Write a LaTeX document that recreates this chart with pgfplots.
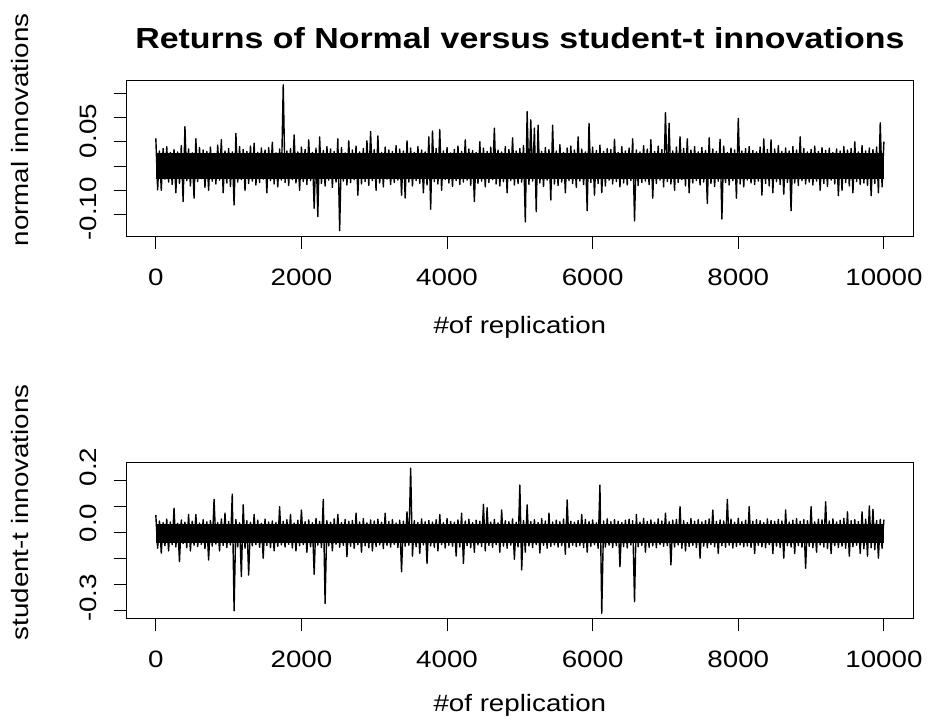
\documentclass[border=0pt]{standalone}
\usepackage{pgfplots}
\pgfplotsset{compat=1.18}
\usepackage{fontspec}
\setmainfont{Liberation Sans}[FakeStretch=1.17]
\newcommand{\rfont}{\fontsize{23.7pt}{28pt}\selectfont}
\begin{document}
\begin{tikzpicture}
\useasboundingbox (0,0) rectangle (928pt,-722pt);
\pgfplotsset{
  rstyle/.style={
    scale only axis, width=786.3pt,
    xmin=-400, xmax=10400,
    scaled x ticks=false, scaled y ticks=false,
    axis line style={line width=0.9pt},
    tick align=outside, tick pos=left,
    major tick length=13pt,
    tick style={black, line width=0.9pt},
    tick label style={font=\rfont},
    label style={font=\rfont},
    xtick={0,2000,4000,6000,8000,10000},
    xticklabels={0,2000,4000,6000,8000,10000},
    xticklabel style={anchor=base, inner sep=0pt, yshift=-36pt},
    yticklabels={},
    extra y tick style={major tick length=0pt,
      yticklabel style={rotate=90, anchor=south, inner sep=0pt, yshift=30pt}},
    xlabel={\#of replication},
    ylabel style={at={(axis description cs:0,0.68)}, anchor=center, yshift=106.7pt},
  },
  rline/.style={black, line width=1.4pt, line join=round, mark=none},
  rcore/.style={fill=black, draw=none, mark=none},
}
% ---------------- top panel: normal innovations ----------------
\begin{axis}[rstyle,
  at={(126.7pt,-236pt)}, anchor=south west, height=156pt,
  ymin=-0.144, ymax=0.177,
  ytick={-0.10,-0.05,0,0.05,0.10,0.15},
  extra y ticks={0.072,-0.0885},
  extra y tick labels={0.05,-0.10},
  ylabel={normal innovations},
  xlabel style={at={(axis description cs:0.5,0)}, anchor=center, yshift=-91pt},
  title={Returns of Normal versus student-t innovations},
  title style={at={(axis description cs:0.5,1)}, anchor=center, yshift=36pt,
    font=\fontsize{29pt}{34pt}\selectfont\bfseries},
]
\addplot[rcore] coordinates {(0,-0.026) (10000,-0.026) (10000,0.027) (0,0.027)} -- cycle;
\addplot[rline] table[x expr=\coordindex*25, y index=0, header=false, row sep=\\] {
0.057\\ -0.049\\ 0.031\\ -0.050\\ 0.036\\ -0.027\\ 0.040\\ -0.033\\ 0.028\\ -0.038\\
0.034\\ -0.055\\ 0.029\\ -0.036\\ 0.042\\ -0.073\\ 0.081\\ -0.030\\ 0.035\\ -0.041\\
0.027\\ -0.066\\ 0.056\\ -0.032\\ 0.038\\ -0.026\\ 0.033\\ -0.044\\ 0.030\\ -0.050\\
0.039\\ -0.031\\ 0.026\\ -0.037\\ 0.043\\ -0.029\\ 0.054\\ -0.055\\ 0.031\\ -0.035\\
0.036\\ -0.042\\ 0.029\\ -0.080\\ 0.067\\ -0.033\\ 0.040\\ -0.028\\ 0.034\\ -0.050\\
0.030\\ -0.036\\ 0.041\\ -0.031\\ 0.047\\ -0.039\\ 0.028\\ -0.034\\ 0.037\\ -0.027\\
0.033\\ -0.055\\ 0.038\\ -0.030\\ 0.049\\ -0.037\\ 0.027\\ -0.043\\ 0.035\\ -0.029\\
0.167\\ -0.034\\ 0.031\\ -0.040\\ 0.036\\ -0.028\\ 0.064\\ -0.035\\ 0.029\\ -0.050\\
0.039\\ -0.032\\ 0.034\\ -0.038\\ 0.054\\ -0.030\\ 0.028\\ -0.087\\ 0.037\\ -0.104\\
0.060\\ -0.036\\ 0.032\\ -0.041\\ 0.040\\ -0.029\\ 0.035\\ -0.044\\ 0.030\\ -0.033\\
0.056\\ -0.133\\ 0.038\\ -0.031\\ 0.027\\ -0.039\\ 0.052\\ -0.034\\ 0.033\\ -0.028\\
0.041\\ -0.060\\ 0.029\\ -0.037\\ 0.036\\ -0.032\\ 0.052\\ -0.040\\ 0.071\\ -0.030\\
0.034\\ -0.050\\ 0.062\\ -0.035\\ 0.028\\ -0.043\\ 0.039\\ -0.027\\ 0.033\\ -0.038\\
0.030\\ -0.034\\ 0.042\\ -0.029\\ 0.035\\ -0.060\\ 0.031\\ -0.066\\ 0.052\\ -0.033\\
0.037\\ -0.041\\ 0.028\\ -0.030\\ 0.040\\ -0.036\\ 0.033\\ -0.055\\ 0.029\\ -0.039\\
0.060\\ -0.089\\ 0.072\\ -0.032\\ 0.036\\ -0.037\\ 0.075\\ -0.050\\ 0.031\\ -0.028\\
0.038\\ -0.035\\ 0.027\\ -0.042\\ 0.034\\ -0.030\\ 0.041\\ -0.038\\ 0.030\\ -0.033\\
0.054\\ -0.029\\ 0.035\\ -0.040\\ 0.032\\ -0.073\\ 0.028\\ -0.036\\ 0.050\\ -0.031\\
0.037\\ -0.043\\ 0.030\\ -0.034\\ 0.039\\ -0.028\\ 0.078\\ -0.037\\ 0.033\\ -0.041\\
0.029\\ -0.032\\ 0.040\\ -0.055\\ 0.034\\ -0.030\\ 0.058\\ -0.039\\ 0.031\\ -0.036\\
0.036\\ -0.033\\ 0.042\\ -0.115\\ 0.112\\ -0.038\\ 0.095\\ -0.031\\ 0.078\\ -0.094\\
0.084\\ -0.035\\ 0.030\\ -0.042\\ 0.038\\ -0.029\\ 0.034\\ -0.070\\ 0.084\\ -0.037\\
0.031\\ -0.040\\ 0.044\\ -0.033\\ 0.028\\ -0.055\\ 0.037\\ -0.030\\ 0.041\\ -0.036\\
0.033\\ -0.044\\ 0.060\\ -0.031\\ 0.035\\ -0.038\\ 0.029\\ -0.092\\ 0.088\\ -0.034\\
0.039\\ -0.060\\ 0.032\\ -0.036\\ 0.043\\ -0.055\\ 0.030\\ -0.041\\ 0.036\\ -0.029\\
0.034\\ -0.037\\ 0.055\\ -0.032\\ 0.028\\ -0.043\\ 0.040\\ -0.035\\ 0.031\\ -0.039\\
0.037\\ -0.030\\ 0.056\\ -0.113\\ 0.033\\ -0.040\\ 0.029\\ -0.034\\ 0.042\\ -0.031\\
0.035\\ -0.038\\ 0.054\\ -0.066\\ 0.030\\ -0.036\\ 0.041\\ -0.029\\ 0.034\\ -0.043\\
0.110\\ -0.032\\ 0.088\\ -0.037\\ 0.031\\ -0.050\\ 0.039\\ -0.034\\ 0.060\\ -0.028\\
0.036\\ -0.041\\ 0.056\\ -0.055\\ 0.033\\ -0.035\\ 0.040\\ -0.030\\ 0.029\\ -0.039\\
0.038\\ -0.033\\ 0.032\\ -0.077\\ 0.058\\ -0.036\\ 0.035\\ -0.042\\ 0.030\\ -0.031\\
0.055\\ -0.109\\ 0.041\\ -0.034\\ 0.028\\ -0.039\\ 0.037\\ -0.030\\ 0.033\\ -0.066\\
0.098\\ -0.037\\ 0.031\\ -0.043\\ 0.036\\ -0.029\\ 0.040\\ -0.035\\ 0.032\\ -0.038\\
0.029\\ -0.031\\ 0.039\\ -0.060\\ 0.056\\ -0.036\\ 0.034\\ -0.041\\ 0.054\\ -0.055\\
0.035\\ -0.032\\ 0.042\\ -0.038\\ 0.030\\ -0.058\\ 0.037\\ -0.034\\ 0.031\\ -0.092\\
0.040\\ -0.035\\ 0.033\\ -0.040\\ 0.060\\ -0.030\\ 0.036\\ -0.037\\ 0.029\\ -0.033\\
0.034\\ -0.039\\ 0.041\\ -0.031\\ 0.030\\ -0.050\\ 0.038\\ -0.036\\ 0.032\\ -0.042\\
0.037\\ -0.029\\ 0.028\\ -0.037\\ 0.035\\ -0.061\\ 0.031\\ -0.050\\ 0.040\\ -0.034\\
0.033\\ -0.041\\ 0.036\\ -0.055\\ 0.050\\ -0.032\\ 0.029\\ -0.038\\ 0.042\\ -0.035\\
0.031\\ -0.040\\ 0.037\\ -0.061\\ 0.034\\ -0.036\\ 0.039\\ -0.055\\ 0.089\\ -0.043\\
0.050\\
};
\end{axis}
% ---------------- bottom panel: student-t innovations ----------------
\begin{axis}[rstyle,
  at={(126.7pt,-618pt)}, anchor=south west, height=155.3pt,
  ymin=-0.328, ymax=0.269,
  ytick={-0.3,-0.2,-0.1,0,0.1,0.2},
  extra y ticks={0.253,0.037,-0.251},
  extra y tick labels={0.2,0.0,-0.3},
  ylabel={student-t innovations},
  xlabel style={at={(axis description cs:0.5,0)}, anchor=center, yshift=-87pt},
]
\addplot[rcore] coordinates {(0,-0.039) (10000,-0.039) (10000,0.033) (0,0.033)} -- cycle;
\addplot[rline] table[x expr=\coordindex*25, y index=0, header=false, row sep=\\] {
0.068\\ -0.060\\ 0.045\\ -0.079\\ 0.038\\ -0.050\\ 0.052\\ -0.070\\ 0.041\\ -0.046\\
0.094\\ -0.055\\ 0.036\\ -0.111\\ 0.049\\ -0.042\\ 0.040\\ -0.058\\ 0.070\\ -0.070\\
0.044\\ -0.048\\ 0.070\\ -0.053\\ 0.037\\ -0.045\\ 0.050\\ -0.061\\ 0.042\\ -0.105\\
0.047\\ -0.052\\ 0.128\\ -0.044\\ 0.039\\ -0.070\\ 0.053\\ -0.049\\ 0.075\\ -0.057\\
0.043\\ -0.047\\ 0.148\\ -0.300\\ 0.051\\ -0.055\\ 0.038\\ -0.169\\ 0.107\\ -0.060\\
0.046\\ -0.163\\ 0.040\\ -0.051\\ 0.070\\ -0.046\\ 0.048\\ -0.056\\ 0.036\\ -0.098\\
0.052\\ -0.049\\ 0.041\\ -0.058\\ 0.045\\ -0.070\\ 0.039\\ -0.053\\ 0.100\\ -0.047\\
0.044\\ -0.055\\ 0.050\\ -0.045\\ 0.070\\ -0.059\\ 0.037\\ -0.070\\ 0.048\\ -0.050\\
0.087\\ -0.046\\ 0.042\\ -0.075\\ 0.049\\ -0.054\\ 0.038\\ -0.160\\ 0.055\\ -0.048\\
0.043\\ -0.057\\ 0.128\\ -0.272\\ 0.046\\ -0.051\\ 0.040\\ -0.070\\ 0.053\\ -0.045\\
0.070\\ -0.056\\ 0.039\\ -0.049\\ 0.051\\ -0.092\\ 0.044\\ -0.052\\ 0.047\\ -0.060\\
0.075\\ -0.046\\ 0.041\\ -0.075\\ 0.054\\ -0.050\\ 0.038\\ -0.058\\ 0.049\\ -0.070\\
0.045\\ -0.053\\ 0.052\\ -0.047\\ 0.040\\ -0.061\\ 0.075\\ -0.049\\ 0.043\\ -0.055\\
0.050\\ -0.045\\ 0.037\\ -0.057\\ 0.048\\ -0.150\\ 0.044\\ -0.052\\ 0.080\\ -0.048\\
0.248\\ -0.090\\ 0.046\\ -0.054\\ 0.039\\ -0.080\\ 0.053\\ -0.047\\ 0.042\\ -0.118\\
0.047\\ -0.051\\ 0.041\\ -0.056\\ 0.050\\ -0.070\\ 0.070\\ -0.046\\ 0.038\\ -0.059\\
0.054\\ -0.048\\ 0.043\\ -0.052\\ 0.040\\ -0.090\\ 0.049\\ -0.055\\ 0.075\\ -0.118\\
0.045\\ -0.050\\ 0.052\\ -0.058\\ 0.039\\ -0.075\\ 0.048\\ -0.047\\ 0.044\\ -0.053\\
0.109\\ -0.070\\ 0.096\\ -0.049\\ 0.041\\ -0.056\\ 0.051\\ -0.046\\ 0.038\\ -0.075\\
0.087\\ -0.052\\ 0.046\\ -0.060\\ 0.042\\ -0.048\\ 0.053\\ -0.102\\ 0.040\\ -0.055\\
0.183\\ -0.143\\ 0.047\\ -0.075\\ 0.107\\ -0.051\\ 0.043\\ -0.057\\ 0.050\\ -0.046\\
0.039\\ -0.078\\ 0.054\\ -0.049\\ 0.045\\ -0.060\\ 0.075\\ -0.053\\ 0.041\\ -0.047\\
0.048\\ -0.055\\ 0.042\\ -0.050\\ 0.052\\ -0.083\\ 0.126\\ -0.058\\ 0.044\\ -0.048\\
0.040\\ -0.054\\ 0.047\\ -0.049\\ 0.070\\ -0.057\\ 0.051\\ -0.075\\ 0.043\\ -0.052\\
0.049\\ -0.046\\ 0.038\\ -0.060\\ 0.183\\ -0.310\\ 0.045\\ -0.055\\ 0.053\\ -0.048\\
0.042\\ -0.057\\ 0.050\\ -0.050\\ 0.044\\ -0.131\\ 0.039\\ -0.053\\ 0.048\\ -0.059\\
0.052\\ -0.047\\ 0.046\\ -0.265\\ 0.070\\ -0.054\\ 0.041\\ -0.049\\ 0.055\\ -0.075\\
0.043\\ -0.056\\ 0.049\\ -0.051\\ 0.040\\ -0.058\\ 0.053\\ -0.046\\ 0.045\\ -0.052\\
0.075\\ -0.050\\ 0.042\\ -0.124\\ 0.048\\ -0.055\\ 0.051\\ -0.047\\ 0.100\\ -0.060\\
0.046\\ -0.070\\ 0.039\\ -0.053\\ 0.054\\ -0.049\\ 0.044\\ -0.057\\ 0.050\\ -0.098\\
0.041\\ -0.052\\ 0.047\\ -0.058\\ 0.053\\ -0.046\\ 0.087\\ -0.054\\ 0.043\\ -0.080\\
0.049\\ -0.050\\ 0.045\\ -0.056\\ 0.128\\ -0.048\\ 0.052\\ -0.059\\ 0.040\\ -0.053\\
0.055\\ -0.047\\ 0.042\\ -0.055\\ 0.048\\ -0.051\\ 0.100\\ -0.057\\ 0.044\\ -0.080\\
0.050\\ -0.049\\ 0.046\\ -0.054\\ 0.039\\ -0.058\\ 0.053\\ -0.046\\ 0.047\\ -0.080\\
0.043\\ -0.052\\ 0.051\\ -0.057\\ 0.045\\ -0.098\\ 0.087\\ -0.050\\ 0.041\\ -0.055\\
0.048\\ -0.080\\ 0.054\\ -0.049\\ 0.044\\ -0.056\\ 0.050\\ -0.137\\ 0.046\\ -0.053\\
0.100\\ -0.058\\ 0.042\\ -0.075\\ 0.052\\ -0.047\\ 0.049\\ -0.055\\ 0.119\\ -0.061\\
0.045\\ -0.080\\ 0.053\\ -0.050\\ 0.041\\ -0.057\\ 0.048\\ -0.052\\ 0.055\\ -0.060\\
0.080\\ -0.090\\ 0.046\\ -0.054\\ 0.050\\ -0.048\\ 0.043\\ -0.080\\ 0.080\\ -0.062\\
0.052\\ -0.090\\ 0.103\\ -0.058\\ 0.090\\ -0.065\\ 0.047\\ -0.098\\ 0.051\\ -0.060\\
0.050\\
};
\end{axis}
\end{tikzpicture}
\end{document}
